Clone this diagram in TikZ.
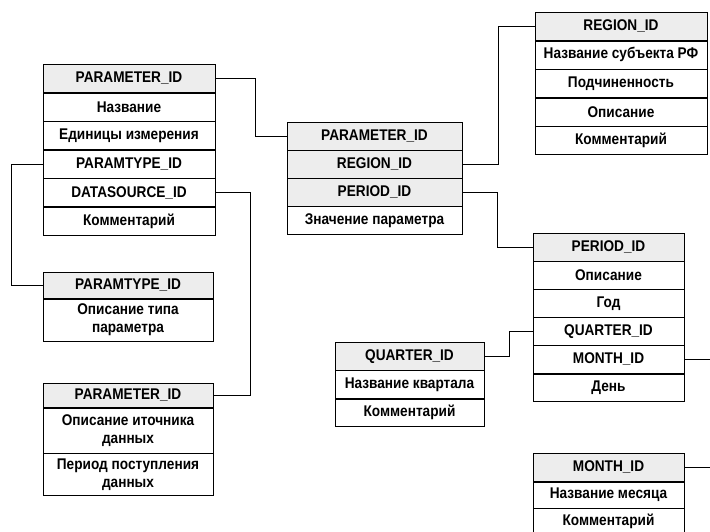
\documentclass[tikz,border=0pt]{standalone}
\usepackage{fontspec}
\setmainfont[FakeStretch=0.88]{Liberation Sans}
\usetikzlibrary{positioning}
\tikzset{%
    fld/.style={draw, line width=0.6pt, inner sep=0pt, align=center, anchor=north,
        font=\bfseries\fontsize{15.5}{18}\selectfont},
    key/.style={fld, fill=black!7},
    lnk/.style={line width=0.6pt},
}

\begin{document}
\begin{tikzpicture}[x=1pt,y=-1pt]
    \useasboundingbox (0,0) rectangle (710,531);
    \clip (0,0) rectangle (710,531);
    % parameters
    \begin{scope}[every node/.append style={minimum width=172, minimum height=28}]
        \node[key] (p1) at (129,64) {PARAMETER\_ID};
        \node[fld,below=0pt of p1] (p2) {Название};
        \node[fld,below=0pt of p2] (p3) {Единицы измерения};
        \node[fld,below=0pt of p3] (p4) {PARAMTYPE\_ID};
        \node[fld,below=0pt of p4] (p5) {DATASOURCE\_ID};
        \node[fld,below=0pt of p5] (p6) {Комментарий};
    \end{scope}
    % values
    \begin{scope}[every node/.append style={minimum width=175, minimum height=27.5}]
        \node[key] (f1) at (374.5,122) {PARAMETER\_ID};
        \node[key,below=0pt of f1] (f2) {REGION\_ID};
        \node[key,below=0pt of f2] (f3) {PERIOD\_ID};
        \node[fld,below=0pt of f3] (f4) {Значение параметра};
    \end{scope}
    % regions
    \begin{scope}[every node/.append style={minimum width=172, minimum height=28}]
        \node[key] (r1) at (621,12) {REGION\_ID};
        \node[fld,below=0pt of r1] (r2) {Название субъекта РФ};
        \node[fld,below=0pt of r2] (r3) {Подчиненность};
        \node[fld,below=0pt of r3] (r4) {Описание};
        \node[fld,below=0pt of r4] (r5) {Комментарий};
    \end{scope}
    % parameter types
    \begin{scope}[every node/.append style={minimum width=170}]
        \node[key,minimum height=26] (t1) at (128,272) {PARAMTYPE\_ID};
        \node[fld,minimum height=42,below=0pt of t1] (t2) {Описание типа\\параметра};
    \end{scope}
    % data sources
    \begin{scope}[every node/.append style={minimum width=170}]
        \node[key,minimum height=24] (s1) at (128,383) {PARAMETER\_ID};
        \node[fld,minimum height=45,below=0pt of s1] (s2) {Описание иточника\\данных};
        \node[fld,minimum height=42,below=0pt of s2] (s3) {Период поступления\\данных};
    \end{scope}
    % periods
    \begin{scope}[every node/.append style={minimum width=151, minimum height=27.5}]
        \node[key] (d1) at (608.5,233) {PERIOD\_ID};
        \node[fld,below=0pt of d1] (d2) {Описание};
        \node[fld,below=0pt of d2] (d3) {Год};
        \node[fld,below=0pt of d3] (d4) {QUARTER\_ID};
        \node[fld,below=0pt of d4] (d5) {MONTH\_ID};
        \node[fld,below=0pt of d5] (d6) {День};
    \end{scope}
    % quarters
    \begin{scope}[every node/.append style={minimum width=149, minimum height=27.7}]
        \node[key] (q1) at (409.5,342) {QUARTER\_ID};
        \node[fld,below=0pt of q1] (q2) {Название квартала};
        \node[fld,below=0pt of q2] (q3) {Комментарий};
    \end{scope}
    % months
    \begin{scope}[every node/.append style={minimum width=151, minimum height=26}]
        \node[key,minimum height=28] (m1) at (608.5,453) {MONTH\_ID};
        \node[fld,below=0pt of m1] (m2) {Название месяца};
        \node[fld,below=0pt of m2] (m3) {Комментарий};
    \end{scope}
    % links
    \coordinate (mr) at (716,0);
    \draw[lnk] (p1.east) -- ++(40,0) |- (f1.west);
    \draw[lnk] (p4.west) -- ++(-31,0) |- (t1.west);
    \draw[lnk] (p5.east) -- ++(35,0) |- (s1.east);
    \draw[lnk] (f2.east) -- ++(36,0) |- (r1.west);
    \draw[lnk] (f3.east) -- ++(35,0) |- (d1.west);
    \draw[lnk] (d4.west) -- ++(-23,0) |- (q1.east);
    \draw[lnk] (d5.east) -- (d5.east -| mr) -- (m1.east -| mr) -- (m1.east);
\end{tikzpicture}
\end{document}
